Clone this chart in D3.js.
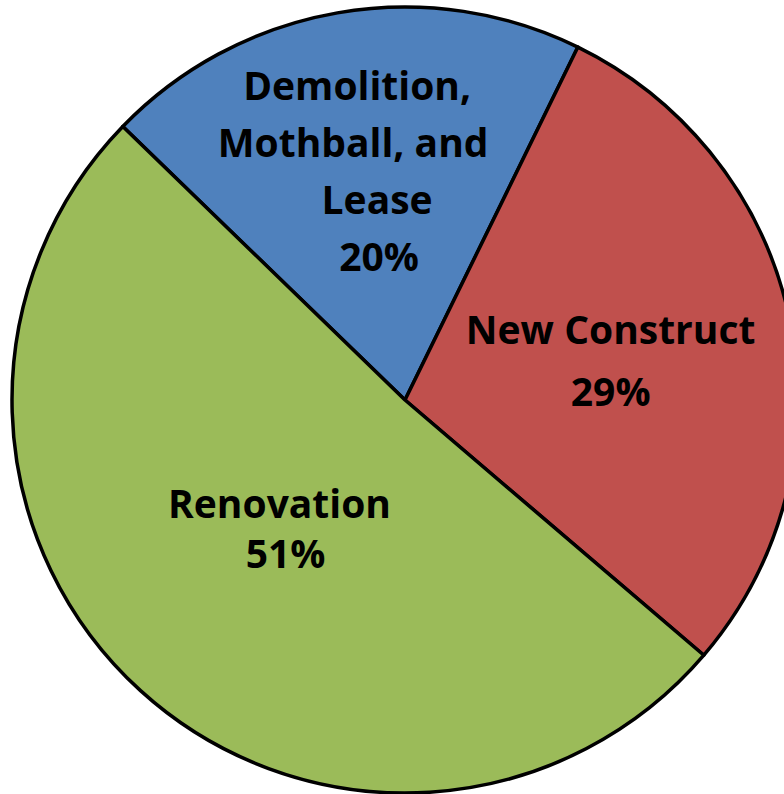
<!DOCTYPE html>
<html>
<head>
<meta charset="utf-8">
<script src="https://cdn.jsdelivr.net/npm/d3@7"></script>
<style>
  body { margin: 0; background: #fff; overflow: hidden; }
  svg { display: block; }
  .label { font-family: "Open Sans", sans-serif; font-weight: 700; fill: #000; }
</style>
</head>
<body>
<svg id="chart" width="784" height="794"></svg>
<script>
// slices, in drawing order (clockwise from the upper-left edge)
const categories = ["Demolition, Mothball, and Lease", "New Construct", "Renovation"];
const values = [20, 29, 51];
const labelLines = [["Demolition,", "Mothball, and", "Lease"], ["New Construct"], ["Renovation"]];
const colors = ["#4F81BD", "#C0504D", "#9BBB59"];

const width = 784, height = 794;
const cx = 405, cy = 400, radius = 393;
const startDeg = 314.1;
const labelRadius = [232, 210, 182];
const labelShift = [[0, 1], [0, 5], [0, -5]];
const lineHeights = [57, 62, 50];
const lineDx = [[-8, -12, 12, 14], [0, 0], [-3, 3]];

const data = categories.map((c, i) => ({ name: c, value: values[i], lines: labelLines[i], color: colors[i] }));

const svg = d3.select("#chart");
const g = svg.append("g").attr("transform", `translate(${cx},${cy})`);

const start = startDeg * Math.PI / 180;
const pie = d3.pie()
    .sort(null)
    .value(d => d.value)
    .startAngle(start)
    .endAngle(start + 2 * Math.PI);

const arc = d3.arc().innerRadius(0).outerRadius(radius);
const arcs = pie(data);

g.selectAll("path.slice")
    .data(arcs)
    .join("path")
    .attr("class", "slice")
    .attr("d", arc)
    .attr("fill", d => d.data.color)
    .attr("stroke", "#000")
    .attr("stroke-width", 3.5)
    .attr("stroke-linejoin", "round");

const fmt = d3.format(".0%");
const total = d3.sum(values);

const labels = g.selectAll("text.label")
    .data(arcs)
    .join("text")
    .attr("class", "label")
    .attr("font-size", "39px")
    .attr("text-anchor", "middle")
    .attr("transform", (d, i) => {
        const a = (d.startAngle + d.endAngle) / 2;
        const r = labelRadius[i];
        return `translate(${r * Math.sin(a) + labelShift[i][0]},${-r * Math.cos(a) + labelShift[i][1]})`;
    });

labels.each(function(d, i) {
    const lines = d.data.lines.concat([fmt(d.data.value / total)]);
    const n = lines.length;
    const lh = lineHeights[i];
    const t = d3.select(this);
    lines.forEach((line, j) => {
        t.append("tspan")
            .attr("x", lineDx[i][j])
            .attr("y", (j - (n - 1) / 2) * lh + 13)
            .text(line);
    });
});
</script>
</body>
</html>
